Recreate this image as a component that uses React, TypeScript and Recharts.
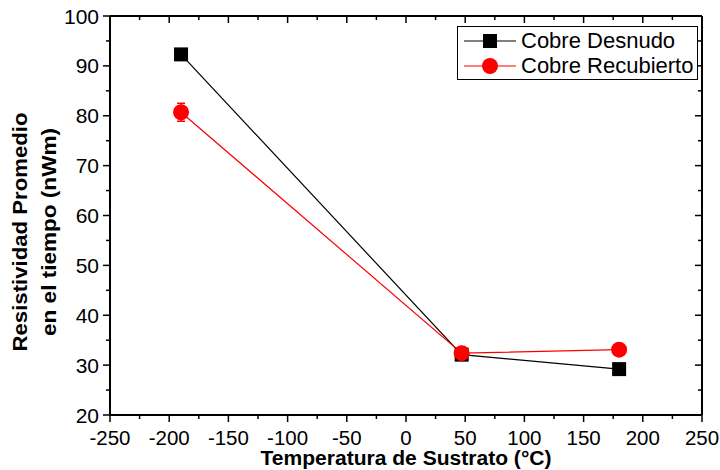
import { ComposedChart, Line, XAxis, YAxis, ErrorBar } from 'recharts';

// temperatura de sustrato (°C) y resistividad promedio
const temps = [-190, 47, 180];
const desnudo = [92.3, 32.1, 29.2];
const recubierto = [80.7, 32.4, 33.1];
const recubiertoErr = [1.8, 0.4, 0.2];

const xTicks = [-250, -225, -200, -175, -150, -125, -100, -75, -50, -25, 0, 25, 50, 75, 100, 125, 150, 175, 200, 225, 250];
const yTicks = [20, 25, 30, 35, 40, 45, 50, 55, 60, 65, 70, 75, 80, 85, 90, 95, 100];

const series = [
  { key: 'desnudo', name: 'Cobre Desnudo', color: '#000', square: true },
  { key: 'recubierto', name: 'Cobre Recubierto', color: '#ff0000', square: false },
];

const data = temps.map((t, i) => ({
  t,
  desnudo: desnudo[i],
  recubierto: recubierto[i],
  err: recubiertoErr[i],
}));

const FONT = '"Liberation Sans", Arial, sans-serif';

const BottomTick = ({ x, y, payload }: any) => {
  const major = payload.value % 50 === 0;
  return (
    <g>
      <line x1={x} y1={y} x2={x} y2={y + (major ? 7 : 4)} stroke="#000" strokeWidth={1.5} />
      {major && (
        <text x={x} y={y + 30} textAnchor="middle" fontSize={20.5} fontFamily={FONT} fill="#000">
          {payload.value}
        </text>
      )}
    </g>
  );
};

const TopTick = ({ x, y, payload }: any) => {
  const major = payload.value % 50 === 0;
  return <line x1={x} y1={y} x2={x} y2={y + (major ? 7 : 4)} stroke="#000" strokeWidth={1.5} />;
};

const LeftTick = ({ x, y, payload }: any) => {
  const major = payload.value % 10 === 0;
  return (
    <g>
      <line x1={x} y1={y} x2={x - (major ? 7 : 4)} y2={y} stroke="#000" strokeWidth={1.5} />
      {major && (
        <text x={x - 11} y={y} dy="0.36em" textAnchor="end" fontSize={21} fontFamily={FONT} fill="#000">
          {payload.value}
        </text>
      )}
    </g>
  );
};

const RightTick = ({ x, y, payload }: any) => {
  const major = payload.value % 10 === 0;
  return <line x1={x} y1={y} x2={x - (major ? 7 : 4)} y2={y} stroke="#000" strokeWidth={1.5} />;
};

const SquareDot = ({ cx, cy, index }: any) => (
  <rect key={`sq-${index}`} x={cx - 7} y={cy - 7} width={14} height={14} fill="#000" />
);

const CircleDot = ({ cx, cy, index }: any) => (
  <circle key={`ci-${index}`} cx={cx} cy={cy} r={8} fill="#ff0000" />
);

const LegendBox = () => (
  <div
    style={{
      position: 'absolute',
      left: 457,
      top: 26,
      border: '1px solid #000',
      background: '#fff',
      width: 241,
      height: 54,
      boxSizing: 'border-box',
      fontFamily: FONT,
      fontSize: 22,
      color: '#000',
      paddingTop: 1,
    }}
  >
    {series.map((s) => (
      <div key={s.name} style={{ display: 'flex', alignItems: 'center', height: 25 }}>
        <svg width={62} height={20} style={{ marginLeft: 1 }}>
          <line x1={5} y1={10} x2={57} y2={10} stroke={s.color} strokeWidth={1.2} />
          {s.square ? (
            <rect x={24} y={3} width={14} height={14} fill={s.color} />
          ) : (
            <circle cx={31} cy={10} r={8} fill={s.color} />
          )}
        </svg>
        <span style={{ lineHeight: '25px' }}>{s.name}</span>
      </div>
    ))}
  </div>
);

export default function App() {
  return (
    <div style={{ position: 'absolute', left: 0, top: 0, width: 720, height: 470, background: '#fff' }}>
      <ComposedChart width={720} height={470} data={data} margin={{ top: 15, right: 17, bottom: 0, left: 0 }}>
        <XAxis
          dataKey="t"
          type="number"
          domain={[-250, 250]}
          ticks={xTicks}
          interval={0}
          height={55}
          tickSize={0}
          tickMargin={0}
          tick={<BottomTick />}
          axisLine={{ stroke: '#000', strokeWidth: 2 }}
          tickLine={false}
        />
        <XAxis
          xAxisId="top"
          orientation="top"
          dataKey="t"
          type="number"
          domain={[-250, 250]}
          ticks={xTicks}
          interval={0}
          height={1}
          tickSize={0}
          tickMargin={0}
          tick={<TopTick />}
          axisLine={{ stroke: '#000', strokeWidth: 2 }}
          tickLine={false}
        />
        <YAxis
          type="number"
          domain={[20, 100]}
          ticks={yTicks}
          interval={0}
          width={110}
          tickSize={0}
          tickMargin={0}
          tick={<LeftTick />}
          axisLine={{ stroke: '#000', strokeWidth: 2 }}
          tickLine={false}
        />
        <YAxis
          yAxisId="right"
          orientation="right"
          type="number"
          domain={[20, 100]}
          ticks={yTicks}
          interval={0}
          width={1}
          tickSize={0}
          tickMargin={0}
          tick={<RightTick />}
          axisLine={{ stroke: '#000', strokeWidth: 2 }}
          tickLine={false}
        />
        {/* invisible series so the top/right frame axes get drawn */}
        <Line
          xAxisId="top"
          yAxisId="right"
          dataKey="desnudo"
          stroke="none"
          dot={false}
          activeDot={false}
          legendType="none"
          isAnimationActive={false}
        />
        <Line
          dataKey="desnudo"
          name="Cobre Desnudo"
          stroke="#000"
          strokeWidth={1.2}
          dot={SquareDot}
          activeDot={false}
          isAnimationActive={false}
        />
        <Line
          dataKey="recubierto"
          name="Cobre Recubierto"
          stroke="#ff0000"
          strokeWidth={1.2}
          dot={CircleDot}
          activeDot={false}
          isAnimationActive={false}
        >
          <ErrorBar dataKey="err" direction="y" width={4} stroke="#ff0000" strokeWidth={1.5} isAnimationActive={false} />
        </Line>
      </ComposedChart>
      <LegendBox />
      <svg width={720} height={470} style={{ position: 'absolute', left: 0, top: 0, pointerEvents: 'none' }}>
        <text
          x={406}
          y={465}
          textAnchor="middle"
          textLength={291}
          lengthAdjust="spacingAndGlyphs"
          fontFamily={FONT}
          fontSize={20}
          fontWeight={700}
          fill="#000"
        >
          Temperatura de Sustrato (°C)
        </text>
        <text
          transform="translate(27,232) rotate(-90)"
          textAnchor="middle"
          textLength={239}
          lengthAdjust="spacingAndGlyphs"
          fontFamily={FONT}
          fontSize={20}
          fontWeight={700}
          fill="#000"
        >
          Resistividad Promedio
        </text>
        <text
          transform="translate(56,232) rotate(-90)"
          textAnchor="middle"
          textLength={208}
          lengthAdjust="spacingAndGlyphs"
          fontFamily={FONT}
          fontSize={20}
          fontWeight={700}
          fill="#000"
        >
          en el tiempo (nWm)
        </text>
      </svg>
    </div>
  );
}
